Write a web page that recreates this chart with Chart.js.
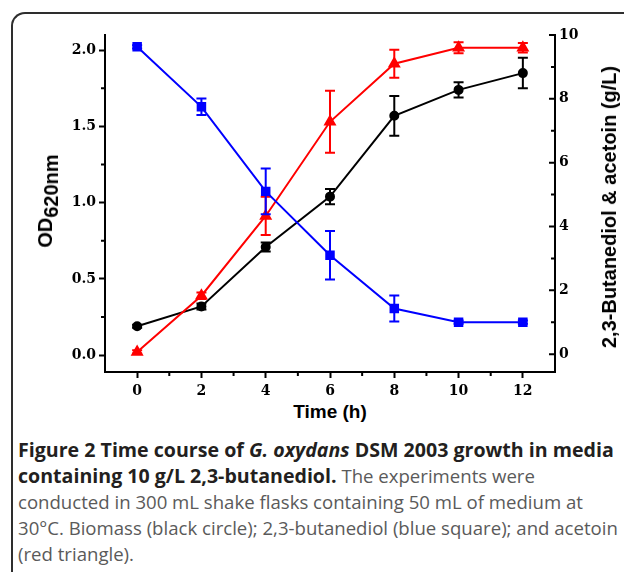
<!DOCTYPE html>
<html>
<head>
<meta charset="utf-8">
<script src="https://cdn.jsdelivr.net/npm/chart.js@4.4.1/dist/chart.umd.min.js"></script>
<style>
  html, body { margin: 0; padding: 0; background: #fff; }
  body { width: 624px; height: 572px; position: relative; overflow: hidden; }
  .frame {
    position: absolute; left: 11px; top: 12px; width: 700px; height: 700px;
    border-left: 2px solid #2e2e2e; border-top: 2px solid #2e2e2e;
    border-top-left-radius: 14px; box-sizing: border-box;
  }
  #wrap { position: absolute; left: 0; top: 0; width: 624px; height: 400px; }
  .axtitle {
    position: absolute; font-family: "Liberation Sans", Arial, sans-serif;
    font-weight: bold; color: #000; white-space: nowrap; line-height: 1;
  }
  .caption {
    position: absolute; left: 18px; top: 437px; font-family: "Open Sans", sans-serif;
    font-size: 18.6px; line-height: 26px; color: #5a5a5a; white-space: nowrap;
  }
  .caption b { color: #231f20; font-weight: bold; font-size: 19.6px; }
</style>
</head>
<body>
<div class="frame"></div>
<div id="wrap"><canvas id="chart" width="624" height="400"></canvas></div>

<div class="axtitle" style="left:45px; top:201px; font-size:20px; transform: translate(-50%,-50%) rotate(-90deg);">OD<span style="position:relative; top:6px;">620nm</span></div>
<div class="axtitle" style="left:609px; top:207px; font-size:20px; transform: translate(-50%,-50%) rotate(-90deg);">2,3-Butanediol &amp; acetoin (g/L)</div>
<div class="axtitle" style="left:330px; top:411px; font-size:19px; transform: translate(-50%,-50%);">Time (h)</div>

<div class="caption"><b>Figure 2 Time course of <i>G. oxydans</i> DSM 2003 growth in media</b><br><b>containing 10 g/L 2,3-butanediol.</b> The experiments were<br>conducted in 300 mL shake flasks containing 50 mL of medium at<br>30°C. Biomass (black circle); 2,3-butanediol (blue square); and acetoin<br>(red triangle).</div>

<script>
// 数据
const time = [0, 2, 4, 6, 8, 10, 12];
const biomass = [0.19, 0.32, 0.71, 1.04, 1.57, 1.74, 1.85];
const biomassErr = [0.01, 0.02, 0.03, 0.05, 0.13, 0.05, 0.10];
const butanediol = [9.63, 7.75, 5.1, 3.1, 1.43, 1.0, 1.0];
const butanediolErr = [0.05, 0.26, 0.72, 0.76, 0.41, 0.05, 0.05];
const acetoin = [0.07, 1.83, 4.33, 7.28, 9.1, 9.6, 9.6];
const acetoinErr = [0.05, 0.1, 0.6, 0.97, 0.44, 0.17, 0.15];

const xTicks = [0, 2, 4, 6, 8, 10, 12];
const xMinor = [1, 3, 5, 7, 9, 11];
const odTicks = [0, 0.5, 1.0, 1.5, 2.0];
const odMinor = [0.25, 0.75, 1.25, 1.75];
const gTicks = [0, 2, 4, 6, 8, 10];
const gMinor = [1, 3, 5, 7, 9];

const pts = (ys) => time.map((t, i) => ({ x: t, y: ys[i] }));
const tickFont = { family: '"DejaVu Serif", serif', size: 14, weight: 'bold' };

// 误差棒
const errorBars = {
  id: 'errorBars',
  beforeDatasetDraw(chart, args) {
    const ds = chart.data.datasets[args.index];
    if (!ds.errors) return;
    const xs = chart.scales.x, ys = chart.scales[ds.yAxisID];
    const ctx = chart.ctx;
    ctx.save();
    ctx.strokeStyle = ds.borderColor;
    ctx.lineWidth = 2;
    ds.data.forEach((p, i) => {
      const e = ds.errors[i];
      const px = xs.getPixelForValue(p.x);
      const top = ys.getPixelForValue(p.y + e);
      const bot = ys.getPixelForValue(p.y - e);
      ctx.beginPath();
      ctx.moveTo(px, top); ctx.lineTo(px, bot);
      ctx.moveTo(px - 5, top); ctx.lineTo(px + 5, top);
      ctx.moveTo(px - 5, bot); ctx.lineTo(px + 5, bot);
      ctx.stroke();
    });
    ctx.restore();
  }
};

// 次刻度 & 右轴内刻度
const extraTicks = {
  id: 'extraTicks',
  afterDraw(chart) {
    const { ctx, chartArea: a, scales } = chart;
    ctx.save();
    ctx.strokeStyle = '#000';
    ctx.lineWidth = 2;
    ctx.beginPath();
    xMinor.forEach(v => {
      const px = scales.x.getPixelForValue(v);
      ctx.moveTo(px, a.bottom); ctx.lineTo(px, a.bottom + 4);
    });
    odMinor.forEach(v => {
      const py = scales.y.getPixelForValue(v);
      ctx.moveTo(a.left, py); ctx.lineTo(a.left - 4, py);
    });
    gTicks.forEach(v => {
      const py = scales.y2.getPixelForValue(v);
      ctx.moveTo(a.right, py); ctx.lineTo(a.right - 6, py);
    });
    gMinor.forEach(v => {
      const py = scales.y2.getPixelForValue(v);
      ctx.moveTo(a.right, py); ctx.lineTo(a.right - 4, py);
    });
    ctx.stroke();
    ctx.restore();
  }
};

new Chart(document.getElementById('chart'), {
  type: 'line',
  data: {
    datasets: [
      {
        label: '2,3-butanediol', data: pts(butanediol), errors: butanediolErr, yAxisID: 'y2',
        borderColor: '#0000ff', backgroundColor: '#0000ff', borderWidth: 2,
        pointStyle: 'rect', pointRadius: 5.3, tension: 0
      },
      {
        label: 'acetoin', data: pts(acetoin), errors: acetoinErr, yAxisID: 'y2',
        borderColor: '#ff0000', backgroundColor: '#ff0000', borderWidth: 2,
        pointStyle: 'triangle', pointRadius: 5.5, tension: 0
      },
      {
        label: 'biomass', data: pts(biomass), errors: biomassErr, yAxisID: 'y',
        borderColor: '#000000', backgroundColor: '#000000', borderWidth: 2,
        pointStyle: 'circle', pointRadius: 4, tension: 0
      }
    ]
  },
  options: {
    responsive: false,
    animation: false,
    layout: { padding: { top: 35, left: 0, right: 0, bottom: 0 } },
    plugins: { legend: { display: false }, tooltip: { enabled: false } },
    scales: {
      x: {
        type: 'linear', position: 'bottom', min: -1, max: 13,
        afterBuildTicks: s => { s.ticks = xTicks.map(v => ({ value: v })); },
        afterFit: s => { s.height = 28; },
        border: { color: '#000', width: 2 },
        grid: { drawOnChartArea: false, tickLength: 6, tickWidth: 2, color: '#000' },
        ticks: { font: tickFont, color: '#000', padding: 5, maxRotation: 0, autoSkip: false }
      },
      y: {
        type: 'linear', position: 'left', min: -0.11, max: 2.1,
        afterBuildTicks: s => { s.ticks = odTicks.map(v => ({ value: v })); },
        afterFit: s => { s.width = 105; },
        border: { color: '#000', width: 2 },
        grid: { drawOnChartArea: false, tickLength: 6, tickWidth: 2, color: '#000' },
        ticks: { font: tickFont, color: '#000', padding: 3, callback: v => v.toFixed(1) }
      },
      y2: {
        type: 'linear', position: 'right', min: -0.56, max: 10,
        afterBuildTicks: s => { s.ticks = gTicks.map(v => ({ value: v })); },
        afterFit: s => { s.width = 69; },
        border: { color: '#000', width: 2 },
        grid: { drawOnChartArea: false, drawTicks: false },
        ticks: { font: tickFont, color: '#000', padding: 4 }
      }
    }
  },
  plugins: [errorBars, extraTicks]
});
</script>
</body>
</html>
